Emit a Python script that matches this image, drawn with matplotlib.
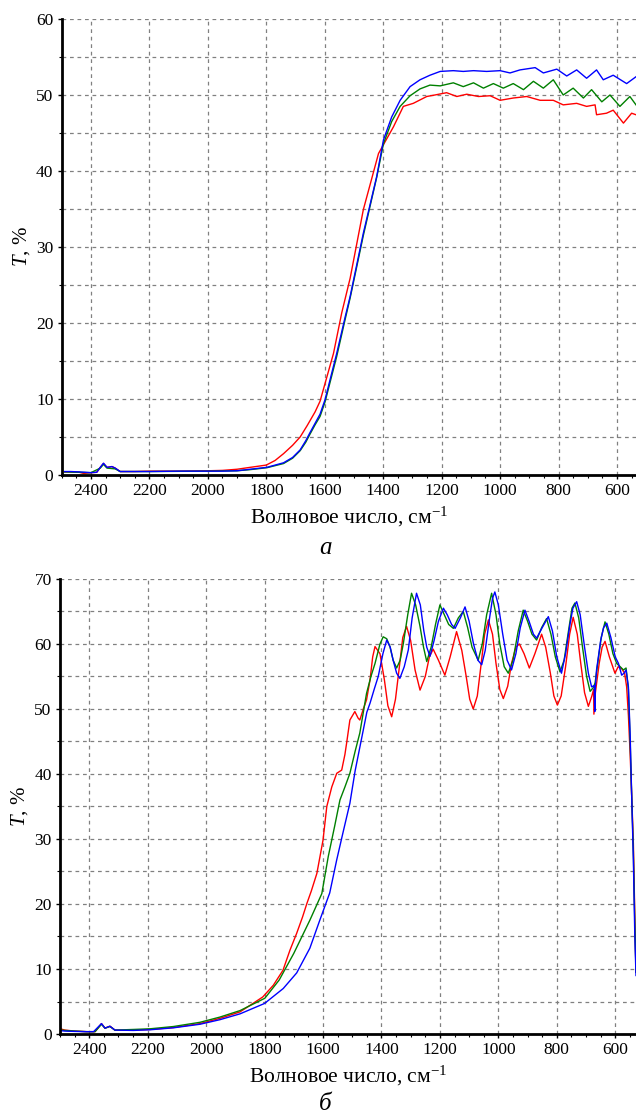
import numpy as np
import matplotlib
matplotlib.use('Agg')
import matplotlib.pyplot as plt
from matplotlib.ticker import MultipleLocator

plt.rcParams['font.family'] = ['Liberation Serif', 'DejaVu Serif']
plt.rcParams['mathtext.fontset'] = 'custom'
plt.rcParams['mathtext.rm'] = 'Liberation Serif'
plt.rcParams['mathtext.it'] = 'Liberation Serif:italic'

# ---- panel a ----
a_red_x = [2490, 2470, 2440, 2425, 2400, 2380, 2368, 2357, 2345, 2328, 2317, 2300, 2250, 2200, 2100,
           2000, 1950, 1900, 1855, 1800, 1770, 1741, 1710, 1684, 1660, 1633, 1616, 1570, 1542, 1513,
           1468, 1416, 1365, 1331, 1297, 1251, 1223, 1183, 1148, 1114, 1074, 1034, 1000, 955, 909,
           863, 818, 784, 738, 704, 675, 670, 636, 613, 578, 550, 535]
a_red_y = [0.4, 0.4, 0.35, 0.2, 0.3, 0.35, 1.0, 1.5, 1.0, 1.1, 0.9, 0.45, 0.45, 0.5, 0.5,
           0.55, 0.6, 0.75, 1.0, 1.3, 1.9, 2.8, 3.9, 5.0, 6.5, 8.3, 9.7, 16, 21.3, 25.9,
           34.9, 42.3, 45.8, 48.5, 48.9, 49.8, 50, 50.3, 49.8, 50.1, 49.8, 49.9, 49.3, 49.6, 49.8,
           49.3, 49.3, 48.7, 48.9, 48.5, 48.7, 47.4, 47.6, 48, 46.3, 47.6, 47.4]

a_green_x = [2490, 2440, 2400, 2368, 2357, 2345, 2317, 2300, 2200, 2000, 1900, 1855, 1798, 1741, 1710,
             1684, 1665, 1650, 1633, 1616, 1599, 1559, 1530, 1513, 1468, 1422, 1399, 1371, 1342, 1308,
             1274, 1240, 1205, 1160, 1126, 1091, 1057, 1023, 989, 955, 920, 886, 852, 818, 784, 750,
             715, 687, 652, 624, 590, 556, 535]
a_green_y = [0.4, 0.35, 0.3, 0.9, 1.4, 0.9, 0.8, 0.45, 0.45, 0.5, 0.55, 0.7, 0.95, 1.5, 2.2,
             3.2, 4.3, 5.4, 6.6, 7.7, 9.6, 15.6, 20.5, 23.3, 31.5, 39.2, 43.6, 46.5, 48.5, 49.9,
             50.8, 51.3, 51.2, 51.6, 51.1, 51.6, 50.9, 51.5, 50.9, 51.5, 50.7, 51.8, 50.9, 52, 50, 50.9,
             49.6, 50.7, 49.1, 50, 48.5, 49.8, 48.7]

a_blue_x = [2490, 2470, 2440, 2400, 2380, 2368, 2357, 2345, 2328, 2317, 2300, 2250, 2200, 2100, 2000,
            1950, 1900, 1855, 1798, 1741, 1710, 1684, 1665, 1650, 1633, 1616, 1599, 1559, 1530, 1513,
            1468, 1422, 1399, 1371, 1342, 1308, 1274, 1240, 1205, 1160, 1126, 1091, 1046, 1000, 966,
            932, 880, 852, 806, 772, 738, 704, 670, 647, 613, 567, 535]
a_blue_y = [0.45, 0.45, 0.4, 0.3, 0.35, 1.0, 1.55, 1.0, 1.1, 0.9, 0.45, 0.45, 0.45, 0.5, 0.5,
            0.5, 0.55, 0.75, 1.0, 1.6, 2.3, 3.3, 4.5, 5.6, 6.8, 8.0, 9.9, 16, 20.8, 23.5,
            31.8, 39.3, 44.1, 47.1, 49.3, 51.1, 52, 52.6, 53.1, 53.2, 53.1, 53.2, 53.1, 53.2, 52.9,
            53.3, 53.6, 52.9, 53.4, 52.5, 53.3, 52.2, 53.3, 52, 52.6, 51.5, 52.4]

# ---- panel b ----
b_red_x = [2495, 2483, 2450, 2409, 2380, 2358, 2346, 2329, 2312, 2249, 2192, 2112, 2021, 1953, 1884,
           1806, 1770, 1737, 1713, 1690, 1670, 1655, 1640, 1621, 1600, 1587, 1570, 1553, 1536, 1525,
           1519, 1508, 1491, 1480, 1474, 1462, 1451, 1439, 1430, 1422, 1405, 1390, 1378, 1365, 1352,
           1340, 1327, 1314, 1300, 1285, 1268, 1250, 1236, 1223, 1205, 1183, 1165, 1143, 1125, 1110,
           1098, 1086, 1072, 1060, 1047, 1034, 1020, 1008, 995, 983, 968, 955, 940, 928, 912, 894,
           875, 852, 838, 822, 810, 798, 785, 770, 756, 744, 730, 718, 705, 692, 680, 674, 673, 668,
           655, 645, 635, 620, 601, 590, 578, 568, 561, 555, 549, 544, 538, 533, 529]
b_red_y = [0.75, 0.6, 0.45, 0.36, 0.36, 1.6, 0.9, 1.2, 0.6, 0.6, 0.7, 1.0, 1.6, 2.4, 3.4,
           5.7, 7.5, 9.8, 12.9, 15.5, 18, 20.1, 22, 24.7, 29.8, 35, 38, 40.1, 40.6, 43,
           44.8, 48.3, 49.6, 48.6, 48.3, 50, 51.4, 54.5, 58, 59.6, 58.5, 54.5, 50.5, 48.8, 51.5,
           56, 61, 62.7, 60.5, 56, 52.9, 55, 58, 59.2, 57.5, 55.2, 58, 61.9, 59, 55,
           51.5, 50, 52, 56.5, 61.5, 63.7, 61.5, 57, 53, 51.6, 53.5, 57, 59.5, 60, 58.5, 56.3,
           58.5, 61.5, 59.5, 55.5, 52, 50.6, 52, 56.5, 61.5, 64.1, 61.5, 57, 52.5, 50.4, 52, 53, 49.2, 52.5,
           57, 59.5, 60.4, 58, 55.5, 56.5, 56.2, 55.5, 53.4, 49, 43, 37, 29.3, 18, 9.5]

b_green_x = [2495, 2483, 2450, 2409, 2380, 2358, 2346, 2329, 2312, 2249, 2192, 2112, 2021, 1953, 1884,
             1799, 1750, 1700, 1645, 1604, 1582, 1560, 1542, 1525, 1508, 1490, 1474, 1462, 1451, 1436,
             1422, 1405, 1394, 1382, 1371, 1360, 1348, 1336, 1325, 1310, 1297, 1283, 1268, 1256, 1245,
             1230, 1215, 1200, 1185, 1170, 1154, 1137, 1120, 1105, 1090, 1069, 1055, 1040, 1023, 1008,
             995, 980, 966, 950, 932, 915, 900, 885, 869, 852, 835, 820, 805, 789, 775, 760, 748, 738,
             725, 712, 698, 686, 675, 669, 660, 648, 635, 622, 608, 595, 583, 572, 563, 555, 549, 544,
             538, 533, 529]
b_green_y = [0.6, 0.55, 0.45, 0.36, 0.36, 1.5, 0.9, 1.15, 0.6, 0.7, 0.8, 1.15, 1.8, 2.6, 3.6,
             5.5, 8.3, 12.4, 17.5, 21.6, 27.3, 32, 36, 38, 40.1, 43.5, 46.3, 49.5, 52.4, 55,
             57, 60, 61.1, 60.8, 59.6, 57.5, 56.3, 57.5, 60.1, 64.5, 67.8, 66, 62.7, 59.5, 57.3,
             59.5, 63, 66, 64.5, 63, 62.4, 64, 65, 62.5, 59.5, 57.5, 60, 64.5, 67.8, 64.5,
             60, 56.5, 55.5, 57.5, 62, 65.2, 63.5, 61.5, 60.6, 62.5, 63.9, 61.5, 58, 55.7, 57.5, 62, 65.5, 66.3,
             64, 59.5, 55, 52.7, 53.3, 54, 57, 61, 63.4, 61.5, 58.5, 57, 56.5, 56, 56.3, 53, 45, 37,
             28, 17, 9.5]

b_blue_x = [2495, 2483, 2450, 2409, 2385, 2358, 2346, 2329, 2312, 2249, 2192, 2112, 2021, 1953, 1884,
            1800, 1736, 1690, 1645, 1611, 1577, 1553, 1532, 1508, 1490, 1470, 1450, 1439, 1425, 1411,
            1395, 1382, 1370, 1360, 1348, 1337, 1322, 1308, 1295, 1280, 1267, 1255, 1245, 1234, 1220,
            1205, 1188, 1175, 1160, 1148, 1130, 1114, 1100, 1085, 1070, 1057, 1045, 1030, 1020, 1012,
            1000, 985, 970, 955, 940, 925, 909, 895, 880, 869, 850, 829, 815, 800, 784, 770, 755, 745,
            732, 720, 705, 692, 681, 672, 670, 668, 664, 650, 640, 629, 615, 600, 589, 578, 570, 563,
            555, 549, 544, 538, 533, 529]
b_blue_y = [0.5, 0.45, 0.4, 0.36, 0.36, 1.6, 0.9, 1.2, 0.6, 0.55, 0.65, 0.95, 1.5, 2.2, 3.1,
            4.7, 7, 9.4, 13.2, 17.5, 21.7, 26.8, 30.9, 35.5, 40.5, 45, 49.5, 50.9, 53, 55,
            58.5, 60.6, 59.5, 57.5, 55.5, 54.7, 56.5, 59.1, 64, 67.8, 66, 62, 59.5, 58.1, 60.5,
            63.5, 65.5, 64.5, 63, 62.4, 64, 65.7, 63.5, 60, 57.5, 56.8, 59, 64, 67, 68,
            66, 61.5, 57.5, 56, 58.5, 62.5, 65.2, 63.5, 61.5, 60.9, 62.5, 64.2, 62, 58, 55.5, 58.5, 63, 65.5,
            66.5, 64.5, 59.5, 55.5, 53.4, 53.6, 49.6, 53.5, 56, 60.5, 62.5, 63.2, 61, 58, 57, 55.2, 55.5, 56,
            53.4, 46, 37, 26.8, 15, 9]

red = '#ff0000'
green = '#008000'
blue = '#0000ff'
xlabel = 'Волновое число, см$^{-1}$'
ylabel = '$\\mathit{T}$, %'


def style_axes(ax, xlim, ylim):
    ax.set_xlim(*xlim)
    ax.set_ylim(*ylim)
    ax.xaxis.set_major_locator(MultipleLocator(200))
    ax.xaxis.set_minor_locator(MultipleLocator(50))
    ax.yaxis.set_major_locator(MultipleLocator(10))
    ax.yaxis.set_minor_locator(MultipleLocator(5))
    ax.grid(which='major', axis='x', color='#808080', lw=0.9, ls=(0, (3, 3)))
    ax.grid(which='both', axis='y', color='#808080', lw=0.9, ls=(0, (3, 3)))
    for s in ['top', 'right']:
        ax.spines[s].set_visible(False)
    for s in ['left', 'bottom']:
        ax.spines[s].set_linewidth(2)
    ax.tick_params(which='major', direction='out', length=3, width=1, labelsize=12.5, pad=3)
    ax.tick_params(which='minor', direction='out', length=2, width=0.8)
    ax.set_xlabel(xlabel, fontsize=15.5, labelpad=4)
    ax.set_ylabel(ylabel, fontsize=15, labelpad=3)


fig = plt.figure(figsize=(6.36, 11.17), dpi=100)

ax1 = fig.add_axes([0.097, 0.5748, 0.903, 0.4082])
ax1.plot(a_red_x, a_red_y, color=red, lw=1)
ax1.plot(a_green_x, a_green_y, color=green, lw=1)
ax1.plot(a_blue_x, a_blue_y, color=blue, lw=1)
style_axes(ax1, (2500, 535), (0, 60))

ax2 = fig.add_axes([0.0943, 0.0743, 0.9057, 0.4074])
ax2.plot(b_red_x, b_red_y, color=red, lw=1)
ax2.plot(b_green_x, b_green_y, color=green, lw=1)
ax2.plot(b_blue_x, b_blue_y, color=blue, lw=1)
style_axes(ax2, (2500, 529), (0, 70))

fig.text(325 / 636, 1 - 548 / 1117, 'а', fontsize=18, style='italic', ha='center', va='center')
fig.text(325 / 636, 1 - 1104 / 1117, 'б', fontsize=18, style='italic', ha='center', va='center')

fig.savefig('out.png', dpi=100)
